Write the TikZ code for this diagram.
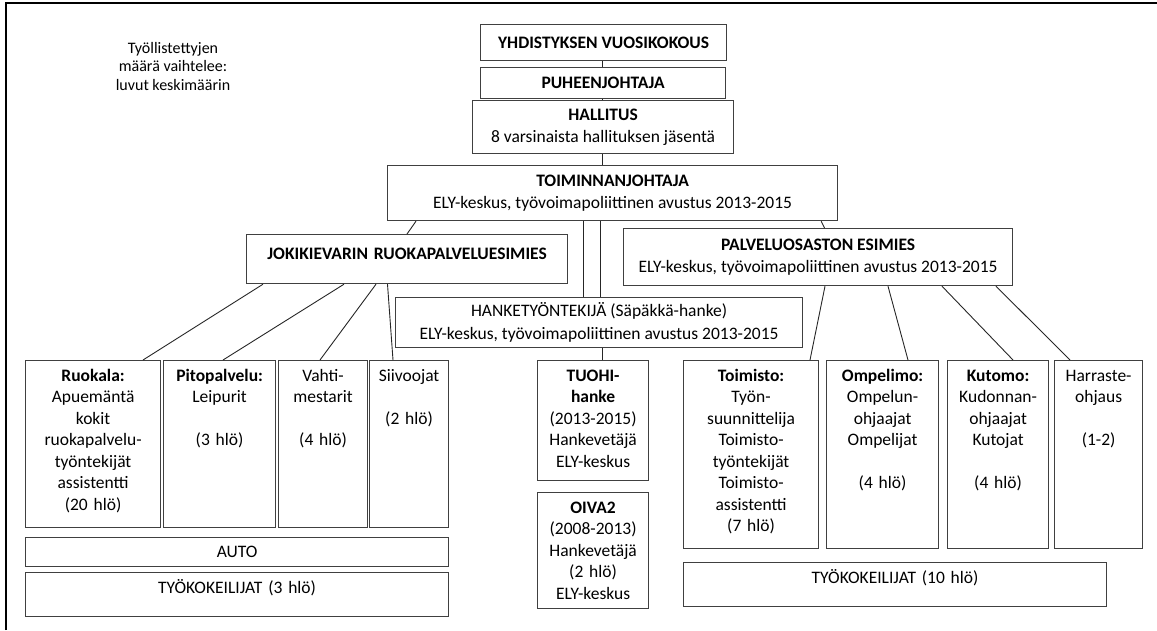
\documentclass[tikz,border=0pt]{standalone}
\usepackage{fontspec}
\setmainfont{Carlito}
\usetikzlibrary{positioning}

\tikzset{
  orgbox/.style={draw=black!75, line width=1.2pt, anchor=north west, align=center, inner sep=0pt},
  headbox/.style={orgbox, font=\fontsize{17.5}{22.5}\selectfont},
  unitbox/.style={orgbox, font=\fontsize{17.5}{21.5}\selectfont, text height=20.6pt},
  link/.style={draw=black!85, line width=0.9pt},
}

\begin{document}
\begin{tikzpicture}[x=1pt,y=-1pt]
\useasboundingbox (0,0) rectangle (1157,630);
\draw[line width=2pt] (6,630) -- (6,3) -- (1157,3);
\node[align=center, font=\fontsize{16}{18.5}\selectfont] (huomio) at (173,66) {Työllistettyjen\\määrä vaihtelee:\\luvut keskimäärin};
% johto
\node[headbox, minimum width=246pt, minimum height=36pt] (kokous) at (480,24) {\textbf{YHDISTYKSEN VUOSIKOKOUS}};
\node[headbox, minimum width=245pt, minimum height=31pt] (puheenjohtaja) at (480,67) {\textbf{PUHEENJOHTAJA}};
\node[headbox, minimum width=261pt, minimum height=53pt] (hallitus) at (472,100) {\textbf{HALLITUS}\\8 varsinaista hallituksen jäsentä};
\node[headbox, minimum width=450pt, minimum height=55pt] (toiminnanjohtaja) at (387,165) {\textbf{TOIMINNANJOHTAJA}\\ELY-keskus, työvoimapoliittinen avustus 2013-2015};
\node[headbox, text width=321pt, text height=25pt, text depth=24pt] (ruokaesimies) at (246,234) {\textbf{JOKIKIEVARIN RUOKAPALVELUESIMIES}};
\node[headbox, minimum width=389pt, minimum height=57pt] (palveluesimies) at (623,228) {\textbf{PALVELUOSASTON ESIMIES}\\ELY-keskus, työvoimapoliittinen avustus 2013-2015};
\node[headbox, minimum width=407pt, minimum height=50pt] (hanketyontekija) at (395,297) {HANKETYÖNTEKIJÄ (Säpäkkä-hanke)\\ELY-keskus, työvoimapoliittinen avustus 2013-2015};
% ruokapalvelu
\node[unitbox, text width=135pt, text depth=146.4pt] (ruokala) at (25,360) {\textbf{Ruokala:}\\Apuemäntä\\kokit\\ruokapalvelu-\\työntekijät\\assistentti\\(20 hlö)};
\node[unitbox, text width=112pt, text depth=146.4pt] (pitopalvelu) at (163,360) {\textbf{Pitopalvelu:}\\Leipurit\\[21.5pt](3 hlö)};
\node[unitbox, text width=89pt, text depth=146.4pt] (vahtimestarit) at (278,360) {Vahti-\\mestarit\\[21.5pt](4 hlö)};
\node[unitbox, text width=79pt, text depth=146.4pt] (siivoojat) at (369,360) {Siivoojat\\[21.5pt](2 hlö)};
\node[headbox, minimum width=423pt, minimum height=29pt] (auto) at (25,537) {AUTO};
\node[unitbox, text width=423pt, text depth=23.4pt] (kokeilijat1) at (25,572) {TYÖKOKEILIJAT (3 hlö)};
% hankkeet
\node[unitbox, text width=111pt, text depth=99.4pt] (tuohi) at (537,360) {\textbf{TUOHI-}\\\textbf{hanke}\\(2013-2015)\\Hankevetäjä\\ELY-keskus};
\node[unitbox, text width=111pt, text depth=95.4pt] (oiva) at (537,492) {\textbf{OIVA2}\\(2008-2013)\\Hankevetäjä\\(2 hlö)\\ELY-keskus};
% palveluosasto
\node[unitbox, text width=135pt, text depth=167.4pt] (toimisto) at (683,360) {\textbf{Toimisto:}\\Työn-\\suunnittelija\\Toimisto-\\työntekijät\\Toimisto-\\assistentti\\(7 hlö)};
\node[unitbox, text width=112pt, text depth=167.4pt] (ompelimo) at (826,360) {\textbf{Ompelimo:}\\Ompelun-\\ohjaajat\\Ompelijat\\[21.5pt](4 hlö)};
\node[unitbox, text width=101pt, text depth=167.4pt] (kutomo) at (947,360) {\textbf{Kutomo:}\\Kudonnan-\\ohjaajat\\Kutojat\\[21.5pt](4 hlö)};
\node[unitbox, text width=88pt, text depth=167.4pt] (harraste) at (1054,360) {Harraste-\\ohjaus\\[21.5pt](1-2)};
\node[unitbox, text width=423pt, text depth=23.4pt] (kokeilijat2) at (683,562) {TYÖKOKEILIJAT (10 hlö)};
% yhteydet
\coordinate (akseli) at ([xshift=122pt]kokous.south west);
\draw[link] (akseli) -- (akseli |- puheenjohtaja.north);
\draw[link] (akseli |- puheenjohtaja.south) -- (akseli |- hallitus.north);
\draw[link] (akseli |- hallitus.south) -- (akseli |- toiminnanjohtaja.north);
\draw[link] ([xshift=29pt]toiminnanjohtaja.south west) -- ([xshift=161pt]ruokaesimies.north west);
\draw[link] ([xshift=-17pt]toiminnanjohtaja.south east) -- ([xshift=201.5pt]palveluesimies.north west);
\coordinate (jako1) at ([xshift=196pt]toiminnanjohtaja.south west);
\coordinate (jako2) at ([xshift=213pt]toiminnanjohtaja.south west);
\draw[link] (jako1) -- (jako1 |- hanketyontekija.north);
\draw[link] (jako2) -- (jako2 |- hanketyontekija.north);
\coordinate (hanke) at ([xshift=207pt]hanketyontekija.south west);
\draw[link] (hanke) -- (hanke |- tuohi.north);
\draw[link] ([xshift=17pt]ruokaesimies.south west) -- ([xshift=118pt]ruokala.north west);
\draw[link] ([xshift=98pt]ruokaesimies.south west) -- ([xshift=60pt]pitopalvelu.north west);
\draw[link] ([xshift=130pt]ruokaesimies.south west) -- ([xshift=42pt]vahtimestarit.north west);
\draw[link] ([xshift=141.5pt]ruokaesimies.south west) -- ([xshift=24pt]siivoojat.north west);
\draw[link] ([xshift=202pt]palveluesimies.south west) -- ([xshift=127pt]toimisto.north west);
\draw[link] ([xshift=265pt]palveluesimies.south west) -- ([xshift=82pt]ompelimo.north west);
\draw[link] ([xshift=319pt]palveluesimies.south west) -- ([xshift=66pt]kutomo.north west);
\draw[link] ([xshift=373pt]palveluesimies.south west) -- ([xshift=16pt]harraste.north west);
\end{tikzpicture}
\end{document}
